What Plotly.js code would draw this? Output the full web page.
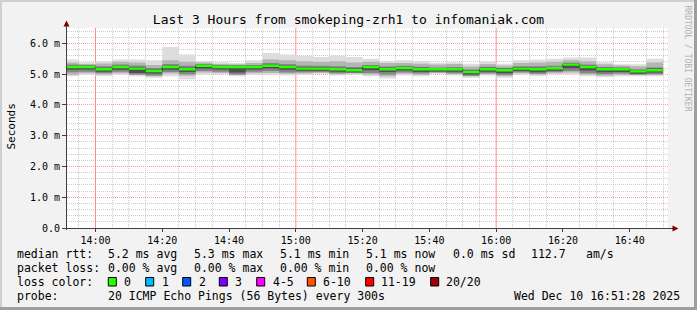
<!DOCTYPE html>
<html><head><meta charset="utf-8">
<script src="https://cdn.plot.ly/plotly-3.0.1.min.js"></script>
<style>html,body{margin:0;padding:0;background:#f2f2f2;overflow:hidden}#chart{width:697px;height:310px}</style>
</head><body><div id="chart"></div>
<script>
// ---- data (ms), one value per 5-minute step starting 13:50 ----
const stepStartDay = '2025-12-10';
const firstStepMinute = 13 * 60 + 50;
const stepMinutes = 5;
const medianRtt = [5.23,5.23,5.16,5.23,5.18,5.10,5.23,5.16,5.27,5.23,5.23,5.23,5.27,5.23,5.18,5.18,5.16,5.13,5.23,5.16,5.20,5.16,5.16,5.16,5.07,5.16,5.13,5.18,5.16,5.19,5.31,5.23,5.16,5.16,5.09,5.13];
const pingMax = [5.48,5.39,5.42,5.48,5.48,5.45,5.88,5.64,5.43,5.39,5.36,5.45,5.69,5.64,5.59,5.56,5.61,5.56,5.50,5.43,5.45,5.43,5.37,5.39,5.34,5.42,5.34,5.45,5.48,5.50,5.54,5.54,5.39,5.32,5.32,5.50];
const pingMin = [4.93,4.99,4.94,4.99,4.93,4.88,4.93,4.83,4.99,5.00,4.93,4.99,4.99,4.96,4.99,5.01,4.96,4.99,4.93,4.86,4.96,4.93,5.01,4.96,4.88,4.96,4.88,4.99,4.94,5.00,4.99,4.93,4.91,4.93,4.93,4.93];
const ping18 = [5.38,5.33,5.35,5.40,5.38,5.30,5.45,5.40,5.38,5.33,5.32,5.36,5.48,5.45,5.42,5.40,5.42,5.38,5.40,5.36,5.36,5.34,5.31,5.33,5.25,5.33,5.27,5.36,5.38,5.40,5.45,5.42,5.32,5.28,5.26,5.38];
const ping3 = [4.98,5.03,4.99,5.03,4.97,4.93,5.02,4.95,5.05,5.04,4.97,5.03,5.04,5.01,5.02,5.04,5.00,5.02,4.99,4.93,5.01,4.98,5.04,5.00,4.93,5.00,4.94,5.03,4.99,5.03,5.05,4.99,4.96,4.98,4.97,4.98];
const ping15 = [5.31,5.29,5.26,5.31,5.28,5.20,5.33,5.27,5.32,5.29,5.28,5.30,5.36,5.33,5.28,5.27,5.26,5.23,5.30,5.25,5.27,5.24,5.22,5.23,5.15,5.24,5.19,5.26,5.26,5.27,5.37,5.31,5.23,5.21,5.16,5.22];
const ping6 = [5.06,5.08,5.03,5.08,4.99,4.96,5.07,5.00,5.10,5.08,4.99,5.08,5.10,5.05,5.06,5.07,5.03,5.04,5.04,4.99,5.05,5.02,5.06,5.03,4.95,5.03,4.98,5.06,5.01,5.07,5.10,5.03,5.00,5.02,4.99,5.00];
const ping12 = [5.27,5.27,5.21,5.27,5.23,5.15,5.27,5.21,5.31,5.27,5.27,5.27,5.31,5.27,5.23,5.23,5.21,5.18,5.27,5.21,5.24,5.21,5.20,5.20,5.12,5.21,5.18,5.23,5.21,5.23,5.35,5.27,5.21,5.21,5.13,5.18];
const ping9 = [5.14,5.15,5.08,5.14,5.04,5.02,5.14,5.07,5.18,5.15,5.05,5.15,5.18,5.14,5.11,5.11,5.08,5.06,5.13,5.07,5.12,5.07,5.09,5.08,4.99,5.08,5.03,5.10,5.06,5.11,5.19,5.12,5.06,5.07,5.01,5.05];
const medianBandHalf = 0.04;

const yTickVals = [0,1,2,3,4,5,6];
const yTickText = ['0.0','1.0 m','2.0 m','3.0 m','4.0 m','5.0 m','6.0 m'];
const hourLines = ['2025-12-10 14:00:00','2025-12-10 15:00:00','2025-12-10 16:00:00'];
const yMax = 6.5;

const titleText = 'Last 3 Hours from smokeping-zrh1 to infomaniak.com';
const legendLines = [
  [['median rtt:',16],['5.2 ms avg',107.3],['5.3 ms max',193.3],['5.1 ms min',279],['5.1 ms now',365],['0.0 ms sd',451.7],['112.7',530],['am/s',585]],
  [['packet loss:',16],['0.00 % avg',107.3],['0.00 % max',193.3],['0.00 % min',279],['0.00 % now',365]],
  [['loss color:',16]],
  [['probe:',16],['20 ICMP Echo Pings (56 Bytes) every 300s',107.3],['Wed Dec 10 16:51:28 2025',513.3]]
];
const lossLabels = ['0','1','2','3','4-5','6-10','11-19','20/20'];
const lossColors = ['#26ff00','#00b8ff','#0059ff','#7e00ff','#ff00ff','#ff5500','#ff0000','#a10000'];
const lossBoxX = [108.3,145.7,182.7,219.3,256.7,307.3,365.7,430.7];
const lossLabelX = [123.3,161,197.7,234.3,271.7,322.3,380,445];

// ---- geometry helpers ----
const W = 697, H = 310, L = 67, R = 668, T = 28, B = 228;
const px = x => (x - L) / (R - L);
const py = y => (B - y) / (B - T);
const pad = n => (n < 10 ? '0' : '') + n;
const times = [];
for (let i = 0; i <= medianRtt.length; i++) {
  const t = firstStepMinute + i * stepMinutes;
  times.push(stepStartDay + ' ' + pad(Math.floor(t / 60)) + ':' + pad(t % 60) + ':00');
}
const ext = a => a.concat([a[a.length - 1]]);

const traces = [];
// hourly major grid (light red) drawn as one line trace per hour through the scales, beneath the smoke
hourLines.forEach(t => traces.push({x: [t, t], y: [0, yMax], type: 'scatter', mode: 'lines',
  line: {width: 1, color: '#ff8c8c'}, hoverinfo: 'skip', showlegend: false}));

function band(lo, hi, color) {
  traces.push({x: times, y: ext(lo), type: 'scatter', mode: 'lines', line: {width: 0, shape: 'hv'}, hoverinfo: 'skip', showlegend: false});
  traces.push({x: times, y: ext(hi), type: 'scatter', mode: 'lines', line: {width: 0, shape: 'hv'}, fill: 'tonexty', fillcolor: color, hoverinfo: 'skip', showlegend: false});
}
band(pingMin, pingMax, '#dddddd');
band(ping3, ping18, '#b4b4b4');
band(ping6, ping15, '#858585');
band(ping9, ping12, '#4f4f4f');
traces.push({x: times, y: ext(medianRtt), type: 'scatter', mode: 'lines', line: {width: 1, shape: 'hv', color: '#202020'}, hoverinfo: 'skip', showlegend: false});
band(medianRtt.map(v => v - medianBandHalf), medianRtt.map(v => v + medianBandHalf), '#26ff00');

const mono = 'DejaVu Sans Mono, monospace';
const annotations = [];
const shapes = [];
const lineY = [254.3, 268.3, 282.3, 295.7];
legendLines.forEach((items, li) => items.forEach(([txt, x]) => annotations.push({
  text: txt, x: px(x), y: py(lineY[li]), xref: 'paper', yref: 'paper', xanchor: 'left', yanchor: 'middle',
  showarrow: false, borderpad: 0, font: {family: mono, size: 11.5, color: '#000000'}
})));
lossLabels.forEach((lab, i) => {
  annotations.push({text: lab, x: px(lossLabelX[i]), y: py(lineY[2]), xref: 'paper', yref: 'paper', xanchor: 'left', yanchor: 'middle',
    showarrow: false, borderpad: 0, font: {family: mono, size: 11.5, color: '#000000'}});
  shapes.push({type: 'rect', xref: 'paper', yref: 'paper', x0: px(lossBoxX[i]), x1: px(lossBoxX[i] + 8), y0: py(277.5), y1: py(286),
    fillcolor: lossColors[i], line: {color: '#000000', width: 1}, layer: 'above'});
});
annotations.push({text: 'Seconds', x: px(10.5), y: py(127), xref: 'paper', yref: 'paper', xanchor: 'center', yanchor: 'middle', textangle: -90,
  showarrow: false, borderpad: 0, font: {family: mono, size: 11, color: '#000000'}});
annotations.push({text: 'RRDTOOL / TOBI OETIKER', x: px(687.5), y: py(58), xref: 'paper', yref: 'paper', xanchor: 'center', yanchor: 'middle', textangle: 90,
  showarrow: false, borderpad: 0, font: {family: mono, size: 8, color: '#b0b0b0'}});

// frame
shapes.push({type: 'rect', xref: 'paper', yref: 'paper', x0: px(0), x1: px(W), y0: py(0), y1: py(2), fillcolor: '#cfcfcf', line: {width: 0}, layer: 'above'});
shapes.push({type: 'rect', xref: 'paper', yref: 'paper', x0: px(0), x1: px(2), y0: py(0), y1: py(H), fillcolor: '#cfcfcf', line: {width: 0}, layer: 'above'});
shapes.push({type: 'rect', xref: 'paper', yref: 'paper', x0: px(W - 3), x1: px(W), y0: py(0), y1: py(H), fillcolor: '#9e9e9e', line: {width: 0}, layer: 'above'});
shapes.push({type: 'rect', xref: 'paper', yref: 'paper', x0: px(0), x1: px(W), y0: py(H - 3), y1: py(H), fillcolor: '#9e9e9e', line: {width: 0}, layer: 'above'});
// axes + arrows
shapes.push({type: 'line', xref: 'paper', yref: 'paper', x0: px(66.5), x1: px(66.5), y0: py(230), y1: py(25), line: {color: '#404040', width: 1}, layer: 'above'});
shapes.push({type: 'line', xref: 'paper', yref: 'paper', x0: px(62), x1: px(674), y0: py(228.5), y1: py(228.5), line: {color: '#404040', width: 1}, layer: 'above'});
shapes.push({type: 'path', xref: 'paper', yref: 'paper', path: `M ${px(66.5)},${py(20.5)} L ${px(63.5)},${py(26.5)} L ${px(69.5)},${py(26.5)} Z`, fillcolor: '#7f0000', line: {width: 0}, layer: 'above'});
shapes.push({type: 'path', xref: 'paper', yref: 'paper', path: `M ${px(678.5)},${py(228.5)} L ${px(672.5)},${py(225.5)} L ${px(672.5)},${py(231.5)} Z`, fillcolor: '#7f0000', line: {width: 0}, layer: 'above'});

const layout = {
  width: W, height: H,
  margin: {l: L, r: W - R, t: T, b: H - B, pad: 0},
  paper_bgcolor: '#f2f2f2', plot_bgcolor: '#ffffff',
  showlegend: false,
  title: {text: titleText, x: 0.5, xref: 'container', xanchor: 'center', y: 1 - 19 / H, yref: 'container', yanchor: 'middle',
    font: {family: mono, size: 13, color: '#000000'}},
  xaxis: {
    type: 'date', range: ['2025-12-10 13:51:28', '2025-12-10 16:51:28'],
    tick0: '2025-12-10 14:00:00', dtick: 20 * 60 * 1000, tickformat: '%H:%M',
    showgrid: false,
    minor: {dtick: 5 * 60 * 1000, tick0: '2025-12-10 14:00:00', showgrid: true, gridcolor: '#cccccc', griddash: '1px,1px', gridwidth: 1},
    ticks: 'outside', ticklen: 3, tickcolor: '#404040',
    showline: false, zeroline: false, fixedrange: true,
    tickfont: {family: mono, size: 10, color: '#000000'}
  },
  yaxis: {
    range: [0, yMax], tickvals: yTickVals, ticktext: yTickText,
    showgrid: true, gridcolor: '#ff9a9a', griddash: '1px,1px', gridwidth: 1,
    minor: {dtick: 0.2, tick0: 0, showgrid: true, gridcolor: '#cccccc', griddash: '1px,1px', gridwidth: 1},
    ticks: 'outside', ticklen: 4, tickcolor: '#404040',
    showline: false, zeroline: false, fixedrange: true,
    tickfont: {family: mono, size: 10, color: '#000000'}
  },
  annotations: annotations,
  shapes: shapes
};
Plotly.newPlot('chart', traces, layout, {staticPlot: true, displayModeBar: false});
</script></body></html>
